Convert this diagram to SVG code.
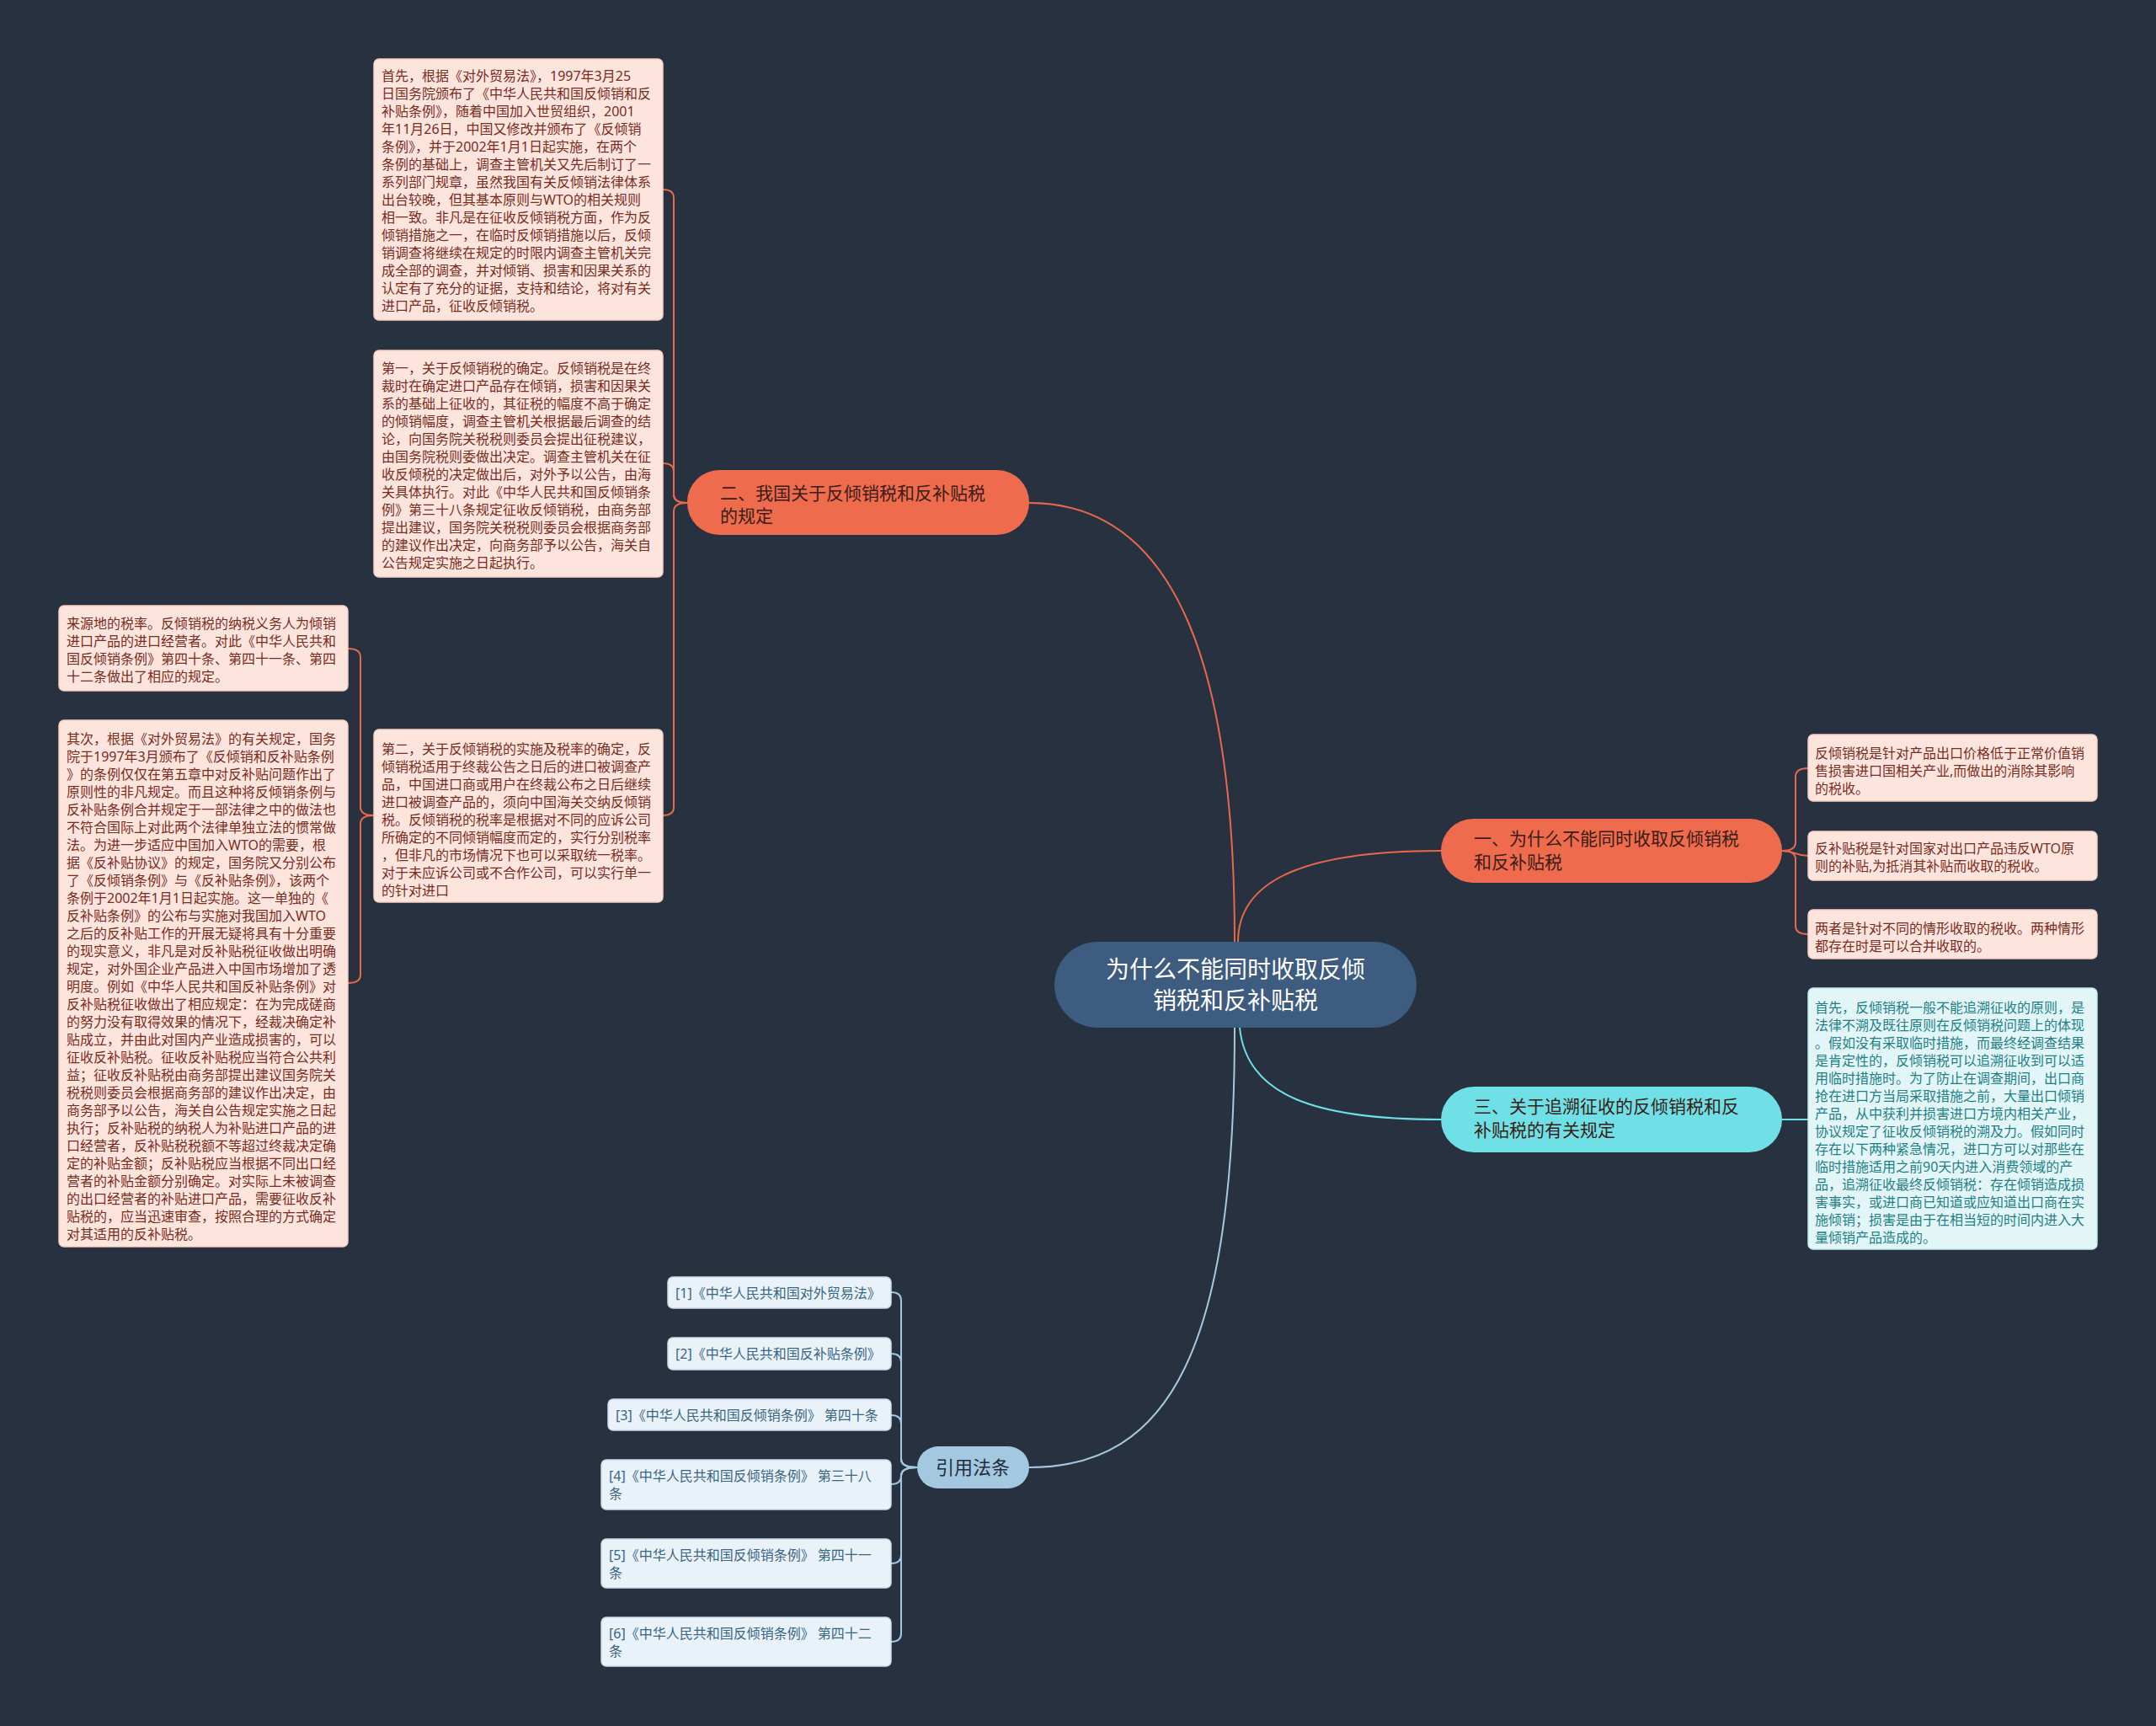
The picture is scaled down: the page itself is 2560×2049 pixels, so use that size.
<svg xmlns="http://www.w3.org/2000/svg" width="2560" height="2049" viewBox="0 0 2560 2049">
<style>
text{font-family:"Noto Sans CJK SC","Noto Sans",sans-serif;}
.leaft,.cyant,.reft{font-family:"Noto Sans","Noto Sans CJK SC",sans-serif;}
.leaf{fill:#fde5dd;stroke:#f6cfc2;stroke-width:1.5;}
.leaft{font-size:16px;fill:#7a2c1e;}
.cyan{fill:#e2f6f7;stroke:#bfeaec;stroke-width:1.5;}
.cyant{font-size:16px;fill:#1f7f87;}
.ref{fill:#e9f2f8;stroke:#c9dcea;stroke-width:1.5;}
.reft{font-size:16px;fill:#3a6685;}
.br{font-size:21px;fill:#3a1d17;}
.l-or{fill:none;stroke:#e8694a;stroke-width:2;}
.l-cy{fill:none;stroke:#6fe0e6;stroke-width:2;}
.l-bl{fill:none;stroke:#a5c8e1;stroke-width:2;}
</style>
<rect x="0" y="0" width="2560" height="2049" fill="#283140"/>

<g id="connectors">
  <path class="l-or" stroke-width="3" d="M1466,1118 C1466,800 1400,597 1222,597"/>
  <path class="l-or" stroke-width="3" d="M1470,1118 C1470,1040 1560,1010 1711,1010"/>
  <path class="l-cy" stroke-width="3" d="M1472,1220 C1480,1300 1560,1329 1711,1329"/>
  <path class="l-bl" stroke-width="3" d="M1466,1220 C1466,1600 1390,1742 1222,1742"/>

  <path class="l-or" d="M816,597 Q800,597 800,587 L800,235 Q800,225 787,225"/>
  <path class="l-or" d="M816,597 Q800,597 800,587 L800,560 Q800,550 787,550"/>
  <path class="l-or" d="M816,597 Q800,597 800,607 L800,958 Q800,968 787,968"/>

  <path class="l-or" d="M444,968 Q428,968 428,958 L428,780 Q428,770 413,770"/>
  <path class="l-or" d="M444,968 Q428,968 428,978 L428,1157 Q428,1167 413,1167"/>

  <path class="l-or" d="M2116,1010 Q2132,1010 2132,1000 L2132,922 Q2132,912 2147,912"/>
  <path class="l-or" d="M2116,1010 C2132,1010 2132,1016 2147,1016"/>
  <path class="l-or" d="M2116,1010 Q2132,1010 2132,1020 L2132,1099 Q2132,1109 2147,1109"/>

  <path class="l-cy" d="M2116,1329 L2147,1329"/>

  <path class="l-bl" d="M1089,1742 Q1070,1742 1070,1732 L1070,1544 Q1070,1534 1058,1534"/>
  <path class="l-bl" d="M1089,1742 Q1070,1742 1070,1732 L1070,1617 Q1070,1607 1058,1607"/>
  <path class="l-bl" d="M1089,1742 Q1070,1742 1070,1732 L1070,1690 Q1070,1680 1058,1680"/>
  <path class="l-bl" d="M1089,1742 Q1070,1742 1070,1752 Q1070,1762 1058,1762"/>
  <path class="l-bl" d="M1089,1742 Q1070,1742 1070,1752 L1070,1846 Q1070,1856 1058,1856"/>
  <path class="l-bl" d="M1089,1742 Q1070,1742 1070,1752 L1070,1939 Q1070,1949 1058,1949"/>
</g>

<g id="root">
  <rect x="1252" y="1118" width="430" height="102" rx="51" fill="#3e5b80"/>
  <text x="1467" y="1161" font-size="28" fill="#ffffff" text-anchor="middle">为什么不能同时收取反倾</text>
  <text x="1467" y="1198" font-size="28" fill="#ffffff" text-anchor="middle">销税和反补贴税</text>
</g>

<g id="branch1">
  <rect x="1711" y="972" width="405" height="76" rx="38" fill="#ee6b4d"/>
  <text class="br" x="1750" y="1003">一、为什么不能同时收取反倾销税</text>
  <text class="br" x="1750" y="1031">和反补贴税</text>
</g>

<g id="branch2">
  <rect x="816" y="558" width="406" height="77" rx="38" fill="#ee6b4d"/>
  <text class="br" x="855" y="593">二、我国关于反倾销税和反补贴税</text>
  <text class="br" x="855" y="620">的规定</text>
</g>

<g id="branch3">
  <rect x="1711" y="1290" width="405" height="78" rx="39" fill="#6fe0e6"/>
  <text class="br" x="1750" y="1321" fill="#1b3a40">三、关于追溯征收的反倾销税和反</text>
  <text class="br" x="1750" y="1349" fill="#1b3a40">补贴税的有关规定</text>
</g>

<g id="branch4">
  <rect x="1089" y="1717" width="133" height="50" rx="25" fill="#a5c8e1"/>
  <text x="1155" y="1750" font-size="22" fill="#1f2d3d" text-anchor="middle">引用法条</text>
</g>

<g id="leafA">
  <rect class="leaf" x="444" y="70" width="343" height="310" rx="6"/>
  <text class="leaft">
    <tspan x="453" y="96">首先，根据《对外贸易法》，1997年3月25</tspan>
    <tspan x="453" y="117">日国务院颁布了《中华人民共和国反倾销和反</tspan>
    <tspan x="453" y="138">补贴条例》，随着中国加入世贸组织，2001</tspan>
    <tspan x="453" y="159">年11月26日，中国又修改并颁布了《反倾销</tspan>
    <tspan x="453" y="180">条例》，并于2002年1月1日起实施，在两个</tspan>
    <tspan x="453" y="201">条例的基础上，调查主管机关又先后制订了一</tspan>
    <tspan x="453" y="222">系列部门规章，虽然我国有关反倾销法律体系</tspan>
    <tspan x="453" y="243">出台较晚，但其基本原则与WTO的相关规则</tspan>
    <tspan x="453" y="264">相一致。非凡是在征收反倾销税方面，作为反</tspan>
    <tspan x="453" y="285">倾销措施之一，在临时反倾销措施以后，反倾</tspan>
    <tspan x="453" y="306">销调查将继续在规定的时限内调查主管机关完</tspan>
    <tspan x="453" y="327">成全部的调查，并对倾销、损害和因果关系的</tspan>
    <tspan x="453" y="348">认定有了充分的证据，支持和结论，将对有关</tspan>
    <tspan x="453" y="369">进口产品，征收反倾销税。</tspan>
  </text>
</g>

<g id="leafB">
  <rect class="leaf" x="444" y="416" width="343" height="269" rx="6"/>
  <text class="leaft">
    <tspan x="453" y="443">第一，关于反倾销税的确定。反倾销税是在终</tspan>
    <tspan x="453" y="464">裁时在确定进口产品存在倾销，损害和因果关</tspan>
    <tspan x="453" y="485">系的基础上征收的，其征税的幅度不高于确定</tspan>
    <tspan x="453" y="506">的倾销幅度，调查主管机关根据最后调查的结</tspan>
    <tspan x="453" y="527">论，向国务院关税税则委员会提出征税建议，</tspan>
    <tspan x="453" y="548">由国务院税则委做出决定。调查主管机关在征</tspan>
    <tspan x="453" y="569">收反倾税的决定做出后，对外予以公告，由海</tspan>
    <tspan x="453" y="590">关具体执行。对此《中华人民共和国反倾销条</tspan>
    <tspan x="453" y="611">例》第三十八条规定征收反倾销税，由商务部</tspan>
    <tspan x="453" y="632">提出建议，国务院关税税则委员会根据商务部</tspan>
    <tspan x="453" y="653">的建议作出决定，向商务部予以公告，海关自</tspan>
    <tspan x="453" y="674">公告规定实施之日起执行。</tspan>
  </text>
</g>

<g id="leafE">
  <rect class="leaf" x="444" y="866" width="343" height="205" rx="6"/>
  <text class="leaft">
    <tspan x="453" y="895">第二，关于反倾销税的实施及税率的确定，反</tspan>
    <tspan x="453" y="916">倾销税适用于终裁公告之日后的进口被调查产</tspan>
    <tspan x="453" y="937">品，中国进口商或用户在终裁公布之日后继续</tspan>
    <tspan x="453" y="958">进口被调查产品的，须向中国海关交纳反倾销</tspan>
    <tspan x="453" y="979">税。反倾销税的税率是根据对不同的应诉公司</tspan>
    <tspan x="453" y="1000">所确定的不同倾销幅度而定的，实行分别税率</tspan>
    <tspan x="453" y="1021">，但非凡的市场情况下也可以采取统一税率。</tspan>
    <tspan x="453" y="1042">对于未应诉公司或不合作公司，可以实行单一</tspan>
    <tspan x="453" y="1063">的针对进口</tspan>
  </text>
</g>

<g id="leafC">
  <rect class="leaf" x="70" y="719" width="343" height="101" rx="6"/>
  <text class="leaft">
    <tspan x="79" y="746">来源地的税率。反倾销税的纳税义务人为倾销</tspan>
    <tspan x="79" y="767">进口产品的进口经营者。对此《中华人民共和</tspan>
    <tspan x="79" y="788">国反倾销条例》第四十条、第四十一条、第四</tspan>
    <tspan x="79" y="809">十二条做出了相应的规定。</tspan>
  </text>
</g>

<g id="leafD">
  <rect class="leaf" x="70" y="855" width="343" height="625" rx="6"/>
  <text class="leaft">
    <tspan x="79" y="883">其次，根据《对外贸易法》的有关规定，国务</tspan>
    <tspan x="79" y="904">院于1997年3月颁布了《反倾销和反补贴条例</tspan>
    <tspan x="79" y="925">》的条例仅仅在第五章中对反补贴问题作出了</tspan>
    <tspan x="79" y="946">原则性的非凡规定。而且这种将反倾销条例与</tspan>
    <tspan x="79" y="967">反补贴条例合并规定于一部法律之中的做法也</tspan>
    <tspan x="79" y="988">不符合国际上对此两个法律单独立法的惯常做</tspan>
    <tspan x="79" y="1009">法。为进一步适应中国加入WTO的需要，根</tspan>
    <tspan x="79" y="1030">据《反补贴协议》的规定，国务院又分别公布</tspan>
    <tspan x="79" y="1051">了《反倾销条例》与《反补贴条例》，该两个</tspan>
    <tspan x="79" y="1072">条例于2002年1月1日起实施。这一单独的《</tspan>
    <tspan x="79" y="1093">反补贴条例》的公布与实施对我国加入WTO</tspan>
    <tspan x="79" y="1114">之后的反补贴工作的开展无疑将具有十分重要</tspan>
    <tspan x="79" y="1135">的现实意义，非凡是对反补贴税征收做出明确</tspan>
    <tspan x="79" y="1156">规定，对外国企业产品进入中国市场增加了透</tspan>
    <tspan x="79" y="1177">明度。例如《中华人民共和国反补贴条例》对</tspan>
    <tspan x="79" y="1198">反补贴税征收做出了相应规定：在为完成磋商</tspan>
    <tspan x="79" y="1219">的努力没有取得效果的情况下，经裁决确定补</tspan>
    <tspan x="79" y="1240">贴成立，并由此对国内产业造成损害的，可以</tspan>
    <tspan x="79" y="1261">征收反补贴税。征收反补贴税应当符合公共利</tspan>
    <tspan x="79" y="1282">益；征收反补贴税由商务部提出建议国务院关</tspan>
    <tspan x="79" y="1303">税税则委员会根据商务部的建议作出决定，由</tspan>
    <tspan x="79" y="1324">商务部予以公告，海关自公告规定实施之日起</tspan>
    <tspan x="79" y="1345">执行；反补贴税的纳税人为补贴进口产品的进</tspan>
    <tspan x="79" y="1366">口经营者，反补贴税税额不等超过终裁决定确</tspan>
    <tspan x="79" y="1387">定的补贴金额；反补贴税应当根据不同出口经</tspan>
    <tspan x="79" y="1408">营者的补贴金额分别确定。对实际上未被调查</tspan>
    <tspan x="79" y="1429">的出口经营者的补贴进口产品，需要征收反补</tspan>
    <tspan x="79" y="1450">贴税的，应当迅速审查，按照合理的方式确定</tspan>
    <tspan x="79" y="1471">对其适用的反补贴税。</tspan>
  </text>
</g>

<g id="leafF">
  <rect class="leaf" x="2147" y="872" width="343" height="79" rx="6"/>
  <text class="leaft">
    <tspan x="2155" y="900">反倾销税是针对产品出口价格低于正常价值销</tspan>
    <tspan x="2155" y="921">售损害进口国相关产业,而做出的消除其影响</tspan>
    <tspan x="2155" y="942">的税收。</tspan>
  </text>
</g>

<g id="leafG">
  <rect class="leaf" x="2147" y="987" width="343" height="58" rx="6"/>
  <text class="leaft">
    <tspan x="2155" y="1013">反补贴税是针对国家对出口产品违反WTO原</tspan>
    <tspan x="2155" y="1034">则的补贴,为抵消其补贴而收取的税收。</tspan>
  </text>
</g>

<g id="leafH">
  <rect class="leaf" x="2147" y="1080" width="343" height="58" rx="6"/>
  <text class="leaft">
    <tspan x="2155" y="1108">两者是针对不同的情形收取的税收。两种情形</tspan>
    <tspan x="2155" y="1129">都存在时是可以合并收取的。</tspan>
  </text>
</g>

<g id="leafI">
  <rect class="cyan" x="2147" y="1173" width="343" height="310" rx="6"/>
  <text class="cyant">
    <tspan x="2155" y="1202">首先，反倾销税一般不能追溯征收的原则，是</tspan>
    <tspan x="2155" y="1223">法律不溯及既往原则在反倾销税问题上的体现</tspan>
    <tspan x="2155" y="1244">。假如没有采取临时措施，而最终经调查结果</tspan>
    <tspan x="2155" y="1265">是肯定性的，反倾销税可以追溯征收到可以适</tspan>
    <tspan x="2155" y="1286">用临时措施时。为了防止在调查期间，出口商</tspan>
    <tspan x="2155" y="1307">抢在进口方当局采取措施之前，大量出口倾销</tspan>
    <tspan x="2155" y="1328">产品，从中获利并损害进口方境内相关产业，</tspan>
    <tspan x="2155" y="1349">协议规定了征收反倾销税的溯及力。假如同时</tspan>
    <tspan x="2155" y="1370">存在以下两种紧急情况，进口方可以对那些在</tspan>
    <tspan x="2155" y="1391">临时措施适用之前90天内进入消费领域的产</tspan>
    <tspan x="2155" y="1412">品，追溯征收最终反倾销税：存在倾销造成损</tspan>
    <tspan x="2155" y="1433">害事实，或进口商已知道或应知道出口商在实</tspan>
    <tspan x="2155" y="1454">施倾销；损害是由于在相当短的时间内进入大</tspan>
    <tspan x="2155" y="1475">量倾销产品造成的。</tspan>
  </text>
</g>

<g id="ref1">
  <rect class="ref" x="793" y="1516" width="265" height="37" rx="6"/>
  <text class="reft" x="802" y="1541">[1]《中华人民共和国对外贸易法》</text>
</g>
<g id="ref2">
  <rect class="ref" x="793" y="1588" width="265" height="38" rx="6"/>
  <text class="reft" x="802" y="1613">[2]《中华人民共和国反补贴条例》</text>
</g>
<g id="ref3">
  <rect class="ref" x="722" y="1661" width="336" height="37" rx="6"/>
  <text class="reft" x="731" y="1686">[3]《中华人民共和国反倾销条例》 第四十条</text>
</g>
<g id="ref4">
  <rect class="ref" x="714" y="1733" width="344" height="59" rx="6"/>
  <text class="reft"><tspan x="723" y="1758">[4]《中华人民共和国反倾销条例》 第三十八</tspan><tspan x="723" y="1779">条</tspan></text>
</g>
<g id="ref5">
  <rect class="ref" x="714" y="1827" width="344" height="58" rx="6"/>
  <text class="reft"><tspan x="723" y="1852">[5]《中华人民共和国反倾销条例》 第四十一</tspan><tspan x="723" y="1873">条</tspan></text>
</g>
<g id="ref6">
  <rect class="ref" x="714" y="1920" width="344" height="58" rx="6"/>
  <text class="reft"><tspan x="723" y="1945">[6]《中华人民共和国反倾销条例》 第四十二</tspan><tspan x="723" y="1966">条</tspan></text>
</g>
</svg>
